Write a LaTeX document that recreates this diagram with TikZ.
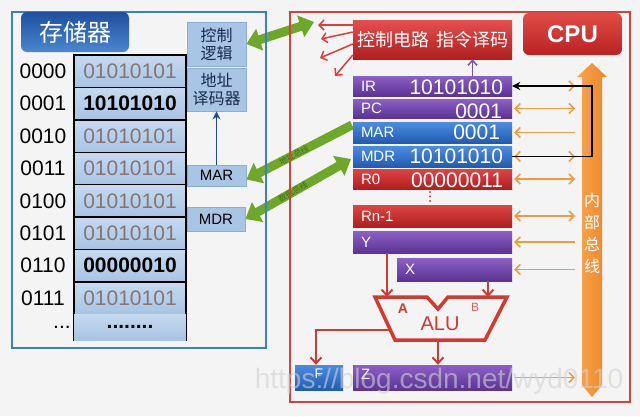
\documentclass[tikz,border=0pt]{standalone}
\usepackage{fontspec}
\setmainfont{Liberation Sans}
\newfontfamily\cjk{Noto Sans CJK SC}
\usetikzlibrary{arrows.meta,calc}
\pgfdeclarelayer{bglayer}
\pgfsetlayers{bglayer,main}
\newcommand{\myfs}[2]{\fontsize{#1}{#2}\selectfont}
\definecolor{bgc}{HTML}{F4F4F4}
\definecolor{memframe}{HTML}{3C7DD0}
\definecolor{tabtop}{HTML}{1E50A0}
\definecolor{tabbot}{HTML}{4A86CE}
\definecolor{cellTop}{HTML}{C6DAF0}
\definecolor{cellBot}{HTML}{A8C3E3}
\definecolor{valgray}{HTML}{857575}
\definecolor{sidefill}{HTML}{A8C5E6}
\definecolor{sidedraw}{HTML}{8AAED6}
\definecolor{sidetext}{HTML}{1A2A4E}
\definecolor{navy}{HTML}{1F4A9A}
\definecolor{cpuframe}{HTML}{D8403A}
\definecolor{cpuTop}{HTML}{E24C46}
\definecolor{cpuBot}{HTML}{B82222}
\definecolor{ctlred}{HTML}{E23B3B}
\definecolor{purpTop}{HTML}{8C60C6}
\definecolor{purpBot}{HTML}{5C3294}
\definecolor{blueTop}{HTML}{4C8CE0}
\definecolor{blueBot}{HTML}{205CB2}
\definecolor{redTop}{HTML}{DE4444}
\definecolor{redBot}{HTML}{B01E1E}
\definecolor{orangeA}{HTML}{F8A650}
\definecolor{orangeB}{HTML}{EE8526}
\definecolor{orarrow}{HTML}{F29A3E}
\definecolor{aluRed}{HTML}{D33A2F}
\definecolor{grn}{HTML}{6DA82B}
\definecolor{grnDark}{HTML}{3F6E14}
\definecolor{purpArrow}{HTML}{7A50C0}
\tikzset{
  cell/.style={draw=black, line width=1.4, top color=cellTop, bottom color=cellBot,
    minimum width=112, minimum height=32.4, inner sep=0},
  memval/.style={text=valgray, font=\myfs{21}{24}},
  membold/.style={text=black, font=\myfs{21}{24}\bfseries},
  addrtxt/.style={text=black, font=\myfs{21}{24}, inner sep=0},
  sidebox/.style={fill=sidefill, draw=sidedraw, line width=0.8, text=sidetext,
    inner sep=0, align=center, font=\myfs{16}{18}\cjk},
  membox/.style={fill=sidefill, draw=sidedraw, line width=0.8, text=black,
    inner sep=0, font=\myfs{15}{18}},
  reg/.style={inner sep=0, minimum width=159},
  regP/.style={reg, top color=purpTop, bottom color=purpBot},
  regB/.style={reg, top color=blueTop, bottom color=blueBot},
  regR/.style={reg, top color=redTop, bottom color=redBot},
  reglab/.style={text=white, font=\myfs{15}{18}, inner sep=0, anchor=west},
  regval/.style={text=white, font=\myfs{21}{24}, inner sep=0, anchor=east},
  ctrlbox/.style={top color=ctlred!90!white, bottom color=redBot, inner sep=0,
    minimum height=39, text=white, font=\myfs{18}{20}\cjk},
  ctlarrow/.style={draw=ctlred, line width=1.5, -{Straight Barb[length=5pt,width=10pt]}},
  busarrow/.style={draw=orarrow, line width=1.5, >={Straight Barb[length=5pt,width=10pt]}},
  blackarrow/.style={draw=black, line width=1.6, -{Stealth[length=8pt,width=8pt]}},
  aluarrow/.style={draw=aluRed, line width=2, -{Straight Barb[length=6pt,width=11pt]}},
  greenarrow/.style={draw=grn, line width=9, >={Triangle[length=14pt,width=22pt]}},
  greenlab/.style={text=grnDark, font=\myfs{8}{9}\cjk, inner sep=0},
}
\begin{document}
\begin{tikzpicture}[x=1pt,y=-1pt]
\begin{pgfonlayer}{bglayer}
\fill[bgc] (0,0) rectangle (640,416);
\end{pgfonlayer}
\useasboundingbox (0,0) rectangle (640,416);

% ---------------- memory ----------------
\node[rounded corners=6, top color=tabtop, bottom color=tabbot, minimum width=108,
  minimum height=40, inner sep=0, text=white, font=\myfs{24}{26}\cjk] (memtab) at (75,32) {存储器};

\foreach \i/\a/\v/\s in {0/0000/01010101/memval,1/0001/10101010/membold,
  2/0010/01010101/memval,3/0011/01010101/memval,4/0100/01010101/memval,
  5/0101/01010101/memval,6/0110/00000010/membold,7/0111/01010101/memval}{
  \node[cell,\s] (cell\i) at (130,{71.2+32.4*\i}) {\v};
  \node[addrtxt] (addr\i) at (43,{71.2+32.4*\i}) {\a};
}
\node[cell, draw=none, minimum height=26] (cell8) at (130,327) {};
\draw[black, line width=1.4] (cell8.north west) -- (cell8.south west)
  (cell8.north east) -- (cell8.south east);
\node[membold] (cdots) at (130,327) {........};
\node[addrtxt] (adots) at (62,327) {...};

\node[sidebox, minimum width=59, minimum height=44] (ctl) at (216.5,44) {控制\\逻辑};
\node[sidebox, minimum width=59, minimum height=43] (dec) at (216.5,89.5) {地址\\译码器};
\node[membox, minimum width=59, minimum height=21] (marm) at (216.5,175.5) {MAR};
\node[membox, minimum width=58, minimum height=24] (mdrm) at (216,219) {MDR};
\draw[navy, line width=1.8, -{Stealth[length=8pt,width=8pt]}] (marm.north) -- (dec.south);

% ---------------- CPU ----------------
\node[rounded corners=6, top color=cpuTop, bottom color=cpuBot, minimum width=99,
  minimum height=42, inner sep=0, text=white, font=\myfs{24}{26}\bfseries] (cputab) at (572.5,34) {CPU};
\node[ctrlbox, minimum width=80] (ctrlA) at (393,39.5) {控制电路};
\node[ctrlbox, minimum width=79] (ctrlB) at (472.5,39.5) {指令译码};

\coordinate (ca1) at (318,25);
\coordinate (ca2) at (321,39);
\coordinate (ca3) at (320,58);
\coordinate (ca4) at (335,76);
\draw[ctlarrow] ($(ctrlA.west)+(0,-14.5)$) -- (ca1);
\draw[ctlarrow] ($(ctrlA.west)+(0,-7.5)$) -- (ca2);
\draw[ctlarrow] ($(ctrlA.west)+(0,4.5)$) -- (ca3);
\draw[ctlarrow] ($(ctrlA.west)+(0,15.5)$) -- (ca4);

\node[regP, minimum height=20] (ir) at (432.5,86) {};
\node[regP, minimum height=19] (pc) at (432.5,108.5) {};
\node[regB, minimum height=21] (mar) at (432.5,132.5) {};
\node[regB, minimum height=21] (mdr) at (432.5,156.5) {};
\node[regR, minimum height=20] (r0) at (432.5,179) {};
\node[regR, minimum height=22] (rn) at (432.5,216) {};
\node[regP, minimum height=22] (yr) at (432.5,242) {};
\node[regP, minimum height=23, minimum width=115] (xr) at (454.5,269.5) {};
\node[regP, minimum height=25] (z) at (432.5,377.5) {};
\node[inner sep=0, minimum width=48, minimum height=25, top color=blueTop, bottom color=blueBot] (fbox) at (319,377.5) {};

\node[reglab] (irl) at ($(ir.west)+(8,0)$) {IR};
\node[reglab] (pcl) at ($(pc.west)+(8,0)$) {PC};
\node[reglab] (marl) at ($(mar.west)+(8,0)$) {MAR};
\node[reglab] (mdrl) at ($(mdr.west)+(8,0)$) {MDR};
\node[reglab] (r0l) at ($(r0.west)+(8,0)$) {R0};
\node[reglab] (rnl) at ($(rn.west)+(8,0)$) {Rn-1};
\node[reglab] (yl) at ($(yr.west)+(8,0)$) {Y};
\node[reglab] (xl) at ($(xr.west)+(8,0)$) {X};
\node[reglab] (zl) at ($(z.west)+(8,-3)$) {Z};
\node[text=white, font=\myfs{14}{16}, inner sep=0] (fl) at ($(fbox.center)+(0,-4)$) {F};

\node[regval] (irv) at ($(ir.east)+(-9,1)$) {10101010};
\node[regval] (pcv) at ($(pc.east)+(-10,3)$) {0001};
\node[regval] (marv) at ($(mar.east)+(-12,0)$) {0001};
\node[regval] (mdrv) at ($(mdr.east)+(-9,0)$) {10101010};
\node[regval] (r0v) at ($(r0.east)+(-9,1)$) {00000011};

\draw[purpArrow, line width=1.5, -{Straight Barb[length=5pt,width=9pt]}] (ir.north -| ctrlB) -- (ctrlB.south);

\fill[ctlred] (430,192) circle (1.2) (430,196.5) circle (1.2) (430,201) circle (1.2);

% internal bus
\shade[left color=orangeA, right color=orangeB] (592,63) -- (607,77) -- (602,77) -- (602,385)
  -- (592,397) -- (582,385) -- (582,77) -- (577,77) -- cycle;
\node[text=white, align=center, inner sep=0, font=\myfs{16}{22}\cjk] (bustxt) at (592,233) {内\\部\\总\\线};

\coordinate (busL) at (575,0);
\coordinate (busC) at (592,0);
\foreach \r/\t in {ir/->,pc/<->,mar/<-,mdr/<->,r0/<->,rn/<->,yr/<-,xr/<-,z/->}{
  \draw[busarrow,\t] ($(\r.east)+(2,0)$) -- (\r.east -| busL);
}
\draw[blackarrow] (mdr.east) -- (mdr.east -| busC) -- (ir.east -| busC) -- (ir.east);

% ALU
\coordinate (aluTL) at (375,297);
\coordinate (aluN1) at (427,297);
\coordinate (aluV) at (438,309);
\coordinate (aluN2) at (448,297);
\coordinate (aluTR) at (507,297);
\coordinate (aluBR) at (485,340);
\coordinate (aluBL) at (395,340);
\draw[aluRed, line width=3.5, fill=bgc] (aluTL) -- (aluN1) -- (aluV) -- (aluN2) -- (aluTR)
  -- (aluBR) -- (aluBL) -- cycle;
\node[text=aluRed, font=\myfs{20}{22}, inner sep=0] (alut) at (440,324) {ALU};
\node[text=aluRed, font=\myfs{14}{16}\bfseries, inner sep=0] (aluAl) at (403,309) {A};
\node[text=aluRed!80!white, font=\myfs{12}{14}, inner sep=0] (aluBl) at (475,307) {B};

\coordinate (aluA) at (387,297);
\coordinate (aluB) at (488,297);
\coordinate (aluOut) at (438,340);
\coordinate (aluF) at (391,330);
\coordinate (fturn) at (316,330);
\draw[aluarrow] (yr.south -| aluA) -- (aluA);
\draw[aluarrow] (xr.south -| aluB) -- (aluB);
\draw[aluarrow] (aluOut) -- (z.north -| aluOut);
\draw[aluarrow] (aluF) -- (fturn) -- (fturn |- fbox.north);

% ---------------- buses & frames (behind) ----------------
\coordinate (gTop) at (314,22);
\coordinate (gMAR) at (352,125);
\coordinate (gMDR) at (351,159);
\begin{pgfonlayer}{bglayer}
\draw[greenarrow,<->] (ctl.east) -- (gTop);
\draw[greenarrow,->] (gMAR) -- ($(marm.east)+(0,4)$) node[greenlab, pos=0.55, sloped] (lab1) {地址总线};
\draw[greenarrow,<->] (mdrm.east) -- (gMDR) node[greenlab, pos=0.45, sloped] (lab2) {数据总线};
\draw[memframe, line width=2] (12,12) rectangle (266,348);
\draw[cpuframe, line width=2] (290,12) rectangle (630,402);
\end{pgfonlayer}

% watermark
\node[text=gray!35, opacity=0.6, font=\myfs{28}{30}, inner sep=0] (wm) at (439,381) {https://blog.csdn.net/wyd0110};
\end{tikzpicture}
\end{document}
